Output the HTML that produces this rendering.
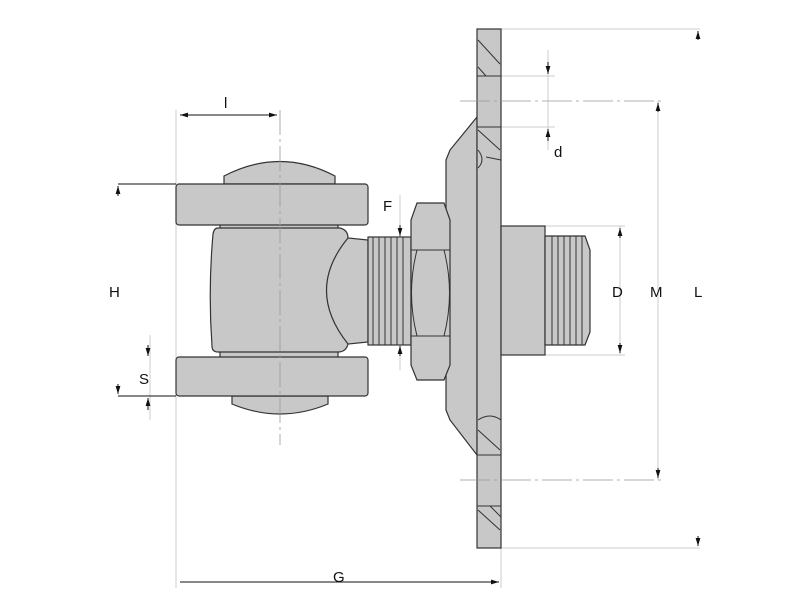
<!DOCTYPE html>
<html><head><style>body{margin:0;background:#fff}svg{display:block}text{font-family:"Liberation Sans",sans-serif;font-size:15px;fill:#111}</style></head><body>
<svg width="800" height="600" viewBox="0 0 800 600">
<defs><marker id="a" viewBox="0 0 10 6" refX="10" refY="3" markerWidth="8" markerHeight="5" orient="auto-start-reverse"><path d="M0,0L10,3L0,6z" fill="#111"/></marker></defs>
<g stroke="#ccc" stroke-width="1" fill="none">
<line x1="176" y1="110" x2="176" y2="588"/>
<line x1="501" y1="548" x2="501" y2="588"/>
<line x1="501" y1="29" x2="700" y2="29"/>
<line x1="501" y1="548" x2="700" y2="548"/>
<line x1="501" y1="76" x2="555" y2="76"/>
<line x1="501" y1="127" x2="555" y2="127"/>
<line x1="545" y1="226" x2="625" y2="226"/>
<line x1="545" y1="355" x2="625" y2="355"/>
<line x1="548" y1="50" x2="548" y2="150"/>
<line x1="150" y1="335" x2="150" y2="420"/>
<line x1="400" y1="195" x2="400" y2="240"/>
<line x1="400" y1="340" x2="400" y2="370"/>
<line x1="658" y1="101" x2="658" y2="480"/>
<line x1="620" y1="226" x2="620" y2="355"/>
</g>
<g stroke="#111" stroke-width="1" fill="none">
<line x1="180" y1="115" x2="277" y2="115" marker-start="url(#a)" marker-end="url(#a)"/>
<line x1="180" y1="582" x2="499" y2="582" marker-end="url(#a)"/>
<line x1="118" y1="184" x2="176" y2="184"/>
<line x1="118" y1="396" x2="176" y2="396"/>
<line x1="118" y1="186" x2="118" y2="196" marker-start="url(#a)"/>
<line x1="118" y1="384" x2="118" y2="394" marker-end="url(#a)"/>
<line x1="148" y1="345" x2="148" y2="356" marker-end="url(#a)"/>
<line x1="148" y1="410" x2="148" y2="398" marker-end="url(#a)"/>
<line x1="400" y1="225" x2="400" y2="236" marker-end="url(#a)"/>
<line x1="400" y1="356" x2="400" y2="346" marker-end="url(#a)"/>
<line x1="548" y1="62" x2="548" y2="74" marker-end="url(#a)"/>
<line x1="548" y1="141" x2="548" y2="129" marker-end="url(#a)"/>
<line x1="698" y1="40" x2="698" y2="31" marker-end="url(#a)"/>
<line x1="698" y1="536" x2="698" y2="546" marker-end="url(#a)"/>
<line x1="658" y1="112" x2="658" y2="103" marker-end="url(#a)"/>
<line x1="658" y1="468" x2="658" y2="478" marker-end="url(#a)"/>
<line x1="620" y1="238" x2="620" y2="228" marker-end="url(#a)"/>
<line x1="620" y1="343" x2="620" y2="353" marker-end="url(#a)"/>
</g>
<g fill="#c8c8c8" stroke="#333" stroke-width="1.2">
<path d="M224,184 L224,176 Q280,147 335,176 L335,184 Z"/>
<path d="M232,396 L232,404 Q280,424 328,404 L328,396 Z"/>
<rect x="220" y="222" width="118" height="138"/>
<path d="M218,228 L340,228 Q348,230 348,238 L368,240 L368,342 L348,344 Q346,352 338,352 L218,352 Q212,352 212,346 Q208,290 213,234 Q214,228 218,228 Z"/>
<path d="M348,238 Q305,290 348,344" fill="none"/>
<rect x="176" y="184" width="192" height="41" rx="3"/>
<rect x="176" y="357" width="192" height="39" rx="3"/>
<rect x="368" y="237" width="43" height="108"/>
<path d="M477,117 L450,150 L446,160 L446,410 L450,420 L477,455 Z"/>
<path d="M417,203 L444,203 L450,220 L450,365 L444,380 L417,380 L411,365 L411,220 Z"/>
<rect x="477" y="29" width="24" height="519"/>
<rect x="501" y="226" width="44" height="129"/>
<path d="M545,236 L585,236 L590,250 L590,332 L585,345 L545,345 Z"/>
</g>
<g stroke="#333" stroke-width="1" fill="none">
<path d="M411,250 L450,250 M411,336 L450,336 M417,250 Q406,293 417,336 M444,250 Q455,293 444,336"/>
<path d="M477,76 L501,76 M477,127 L501,127 M477,455 L501,455 M477,506 L501,506"/>
<path d="M478,40 L500,64 M478,67 L486,76 M478,130 L500,150 M478,150 Q486,160 478,168 M486,157 L501,160"/>
<path d="M478,430 L500,450 M478,510 L500,530 M490,506 L501,517 M478,420 Q490,412 501,420"/>
<path d="M373,237 V345 M379,237 V345 M385,237 V345 M391,237 V345 M397,237 V345 M403,237 V345"/>
<path d="M552,236 V345 M558,236 V345 M564,236 V345 M570,236 V345 M576,236 V345 M582,236 V345"/>
</g>
<g stroke="#999" stroke-width="0.8" fill="none">
<line x1="280" y1="110" x2="280" y2="445" stroke-dasharray="25,4,3,4"/>
<line x1="460" y1="101" x2="665" y2="101" stroke-dasharray="30,4,3,4"/>
<line x1="460" y1="480" x2="665" y2="480" stroke-dasharray="30,4,3,4"/>
</g>
<text x="224" y="108">l</text>
<text x="109" y="297">H</text>
<text x="139" y="384">S</text>
<text x="383" y="211">F</text>
<text x="554" y="157">d</text>
<text x="612" y="297">D</text>
<text x="650" y="297">M</text>
<text x="694" y="297">L</text>
<text x="333" y="582">G</text>
</svg>
</body></html>
